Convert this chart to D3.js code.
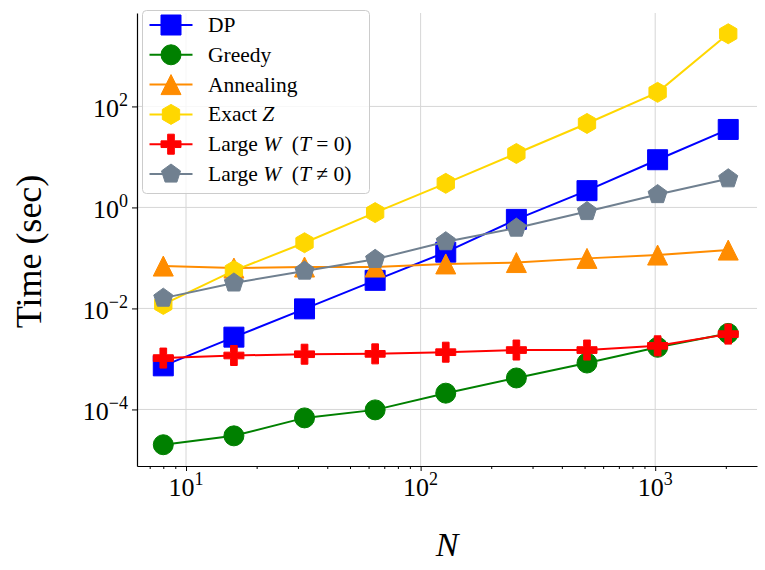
<!DOCTYPE html>
<html>
<head>
<meta charset="utf-8">
<script src="https://cdn.jsdelivr.net/npm/d3@7"></script>
<style>
  body { margin: 0; background: #fff; }
  svg text { font-family: "Liberation Serif", "DejaVu Serif", serif; }
</style>
</head>
<body>
<div id="chart"></div>
<script>
// problem sizes and timings (sec)
const sizes = [8, 16, 32, 64, 128, 256, 512, 1024, 2048];
const dp = [7.3e-4, 2.7e-3, 9.8e-3, 0.036, 0.13, 0.58, 2.15, 8.8, 35];
const greedy = [2.0e-5, 3.0e-5, 6.8e-5, 9.8e-5, 2.1e-4, 4.2e-4, 8.3e-4, 1.7e-3, 3.2e-3];
const annealing = [0.069, 0.063, 0.066, 0.066, 0.076, 0.081, 0.098, 0.114, 0.143];
const exactZ = [0.012, 0.056, 0.20, 0.79, 3.0, 11.7, 46, 190, 2750];
const largeW0 = [1.04e-3, 1.17e-3, 1.24e-3, 1.26e-3, 1.36e-3, 1.5e-3, 1.5e-3, 1.82e-3, 3.1e-3];
const largeWT = [0.016, 0.032, 0.055, 0.094, 0.21, 0.39, 0.83, 1.8, 3.7];

const xTicks = [10, 100, 1000];
const yTicks = [1e-4, 1e-2, 1, 100];

const series = [
  { name: [['DP']], values: dp, color: '#0000ff', marker: 'square' },
  { name: [['Greedy']], values: greedy, color: '#008000', marker: 'circle' },
  { name: [['Annealing']], values: annealing, color: '#ff8c00', marker: 'triangle' },
  { name: [['Exact '], ['Z', 'i']], values: exactZ, color: '#ffd700', marker: 'hexagon' },
  { name: [['Large '], ['W', 'i'], ['\u2002('], ['T', 'i'], [' = 0)']], values: largeW0, color: '#ff0000', marker: 'plus' },
  { name: [['Large '], ['W', 'i'], ['\u2002('], ['T', 'i'], [' \u2260 0)']], values: largeWT, color: '#708090', marker: 'pentagon' }
];

const W = 765, H = 570;
const mLeft = 137, mRight = 757, mTop = 13, mBottom = 466;
const MS = 20; // marker size in px
const FONT = '"Liberation Serif", "DejaVu Serif", serif';

const svg = d3.select('#chart').append('svg')
  .attr('width', W)
  .attr('height', H);

const x = d3.scaleLog().domain([Math.pow(10, 0.791), Math.pow(10, 3.434)]).range([mLeft, mRight]);
const y = d3.scaleLog().domain([Math.pow(10, -5.12), Math.pow(10, 3.85)]).range([mBottom, mTop]);

// grid
svg.append('g').selectAll('line.vg')
  .data(xTicks).enter().append('line')
  .attr('x1', d => x(d)).attr('x2', d => x(d))
  .attr('y1', mTop).attr('y2', mBottom)
  .attr('stroke', '#d6d6d6').attr('stroke-width', 1);

svg.append('g').selectAll('line.hg')
  .data(yTicks).enter().append('line')
  .attr('x1', mLeft).attr('x2', mRight)
  .attr('y1', d => y(d)).attr('y2', d => y(d))
  .attr('stroke', '#d6d6d6').attr('stroke-width', 1);

// axes
let minor = [];
for (let e = 0; e <= 3; e++) {
  for (let m = 2; m <= 9; m++) {
    let v = m * Math.pow(10, e);
    if (v > x.domain()[0] && v < x.domain()[1]) minor.push(v);
  }
}

svg.append('g')
  .attr('transform', 'translate(0,' + mBottom + ')')
  .call(d3.axisBottom(x).tickValues(minor).tickSize(3).tickFormat('').tickSizeOuter(0))
  .call(g => g.select('.domain').remove());

svg.append('g')
  .attr('transform', 'translate(0,' + mBottom + ')')
  .call(d3.axisBottom(x).tickValues(xTicks).tickSize(5).tickFormat('').tickSizeOuter(0))
  .call(g => g.select('.domain').attr('stroke-width', 1.2));

svg.append('g')
  .attr('transform', 'translate(' + mLeft + ',0)')
  .call(d3.axisLeft(y).tickValues(yTicks).tickSize(5).tickFormat('').tickSizeOuter(0))
  .call(g => g.select('.domain').attr('stroke-width', 1.2));

function expLabel(sel, d) {
  let e = Math.round(Math.log10(d));
  sel.append('tspan').text('10');
  sel.append('tspan')
    .attr('dy', -11)
    .attr('font-size', 18)
    .text(String(e).replace('-', '\u2212'));
}

svg.append('g').selectAll('text')
  .data(xTicks).enter().append('text')
  .attr('x', d => x(d))
  .attr('y', mBottom + 30)
  .attr('text-anchor', 'middle')
  .attr('font-family', FONT)
  .attr('font-size', 26)
  .each(function (d) { expLabel(d3.select(this), d); });

svg.append('g').selectAll('text')
  .data(yTicks).enter().append('text')
  .attr('x', mLeft - 9)
  .attr('y', d => y(d) + 10.5)
  .attr('text-anchor', 'end')
  .attr('font-family', FONT)
  .attr('font-size', 26)
  .each(function (d) { expLabel(d3.select(this), d); });

// axis titles
svg.append('text')
  .attr('x', (mLeft + mRight) / 2)
  .attr('y', 556)
  .attr('text-anchor', 'middle')
  .attr('font-family', FONT)
  .attr('font-size', 34)
  .attr('font-style', 'italic')
  .text('N');

svg.append('text')
  .attr('transform', 'translate(41,' + ((mTop + mBottom) / 2 + 12) + ') rotate(-90)')
  .attr('text-anchor', 'middle')
  .attr('font-family', FONT)
  .attr('font-size', 36)
  .text('Time (sec)');

// marker shapes in matplotlib style
function markerPath(type, s) {
  let r = s / 2;
  let poly = function (n) {
    let pts = [];
    for (let k = 0; k < n; k++) {
      let a = -Math.PI / 2 + k * 2 * Math.PI / n;
      pts.push([r * Math.cos(a), r * Math.sin(a)]);
    }
    return 'M' + pts.map(p => p.join(',')).join('L') + 'Z';
  };
  if (type === 'square') return 'M' + (-r) + ',' + (-r) + 'h' + s + 'v' + s + 'h' + (-s) + 'Z';
  if (type === 'circle') return 'M' + (-r) + ',0a' + r + ',' + r + ' 0 1,0 ' + s + ',0a' + r + ',' + r + ' 0 1,0 ' + (-s) + ',0Z';
  if (type === 'triangle') return 'M0,' + (-r) + 'L' + r + ',' + r + 'L' + (-r) + ',' + r + 'Z';
  if (type === 'hexagon') return poly(6);
  if (type === 'pentagon') return poly(5);
  if (type === 'plus') {
    let a = s / 6;
    return 'M' + (-a) + ',' + (-r) + 'H' + a + 'V' + (-a) + 'H' + r + 'V' + a + 'H' + a + 'V' + r +
      'H' + (-a) + 'V' + a + 'H' + (-r) + 'V' + (-a) + 'H' + (-a) + 'Z';
  }
}

const line = d3.line()
  .x(d => x(d[0]))
  .y(d => y(d[1]));

series.forEach(function (s) {
  let pts = sizes.map((n, i) => [n, s.values[i]]);
  let g = svg.append('g');
  g.append('path')
    .attr('d', line(pts))
    .attr('fill', 'none')
    .attr('stroke', s.color)
    .attr('stroke-width', 2);
  g.selectAll('path.m')
    .data(pts).enter().append('path')
    .attr('class', 'm')
    .attr('transform', d => 'translate(' + x(d[0]) + ',' + y(d[1]) + ')')
    .attr('d', markerPath(s.marker, MS))
    .attr('fill', s.color)
    .attr('stroke', s.color)
    .attr('stroke-width', 1);
});

// legend
const lg = svg.append('g').attr('transform', 'translate(142.5,10.5)');
lg.append('rect')
  .attr('width', 227)
  .attr('height', 183)
  .attr('rx', 4)
  .attr('fill', 'rgba(255,255,255,0.8)')
  .attr('stroke', '#cccccc')
  .attr('stroke-width', 1);

series.forEach(function (s, i) {
  let cy = 14.5 + i * 29.8;
  lg.append('line')
    .attr('x1', 7).attr('x2', 50)
    .attr('y1', cy).attr('y2', cy)
    .attr('stroke', s.color).attr('stroke-width', 2);
  lg.append('path')
    .attr('transform', 'translate(28.5,' + cy + ')')
    .attr('d', markerPath(s.marker, MS))
    .attr('fill', s.color)
    .attr('stroke', s.color)
    .attr('stroke-width', 1);
  let t = lg.append('text')
    .attr('x', 65.5)
    .attr('y', cy + 7)
    .attr('font-family', FONT)
    .attr('font-size', 21.5);
  s.name.forEach(function (part) {
    let ts = t.append('tspan').text(part[0]);
    if (part[1] === 'i') ts.attr('font-style', 'italic');
  });
});
</script>
</body>
</html>
